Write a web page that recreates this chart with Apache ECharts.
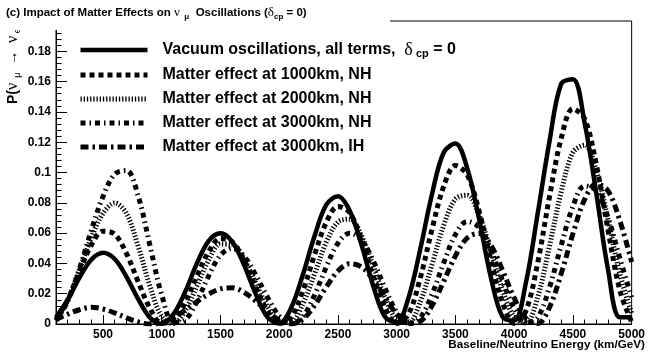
<!DOCTYPE html>
<html>
<head>
<meta charset="utf-8">
<script src="https://cdn.jsdelivr.net/npm/echarts@6/dist/echarts.min.js"></script>
<style>
html, body { margin: 0; padding: 0; background: #fff; }
#chart { width: 648px; height: 352px; }
</style>
</head>
<body>
<div id="chart"></div>
<script>
// Baseline / neutrino energy sample points (km/GeV)
const lOverE = [
  100, 200, 300, 400, 500, 600, 700, 800, 900, 1000,
  1100, 1200, 1300, 1400, 1500, 1600, 1700, 1800, 1900, 2000,
  2100, 2200, 2300, 2400, 2500, 2600, 2700, 2800, 2900, 3000,
  3100, 3200, 3300, 3400, 3500, 3600, 3700, 3800, 3900, 4000,
  4100, 4200, 4300, 4400, 4500, 4600, 4700, 4800, 4900, 5000
];

// P(nu_mu -> nu_e), vacuum, all terms, delta_cp = 0
const vacuum = [
  0.0044, 0.0160, 0.0306, 0.0424, 0.0470, 0.0429, 0.0311, 0.0164, 0.0042, 0.0001,
  0.0065, 0.0213, 0.0401, 0.0549, 0.0599, 0.0543, 0.0391, 0.0199, 0.0045, 0.0003,
  0.0104, 0.0322, 0.0579, 0.0786, 0.0843, 0.0748, 0.0524, 0.0252, 0.0048, 0.0009,
  0.0172, 0.0492, 0.0855, 0.1132, 0.1191, 0.1029, 0.0698, 0.0314, 0.0048, 0.0023,
  0.0273, 0.0728, 0.1203, 0.1585, 0.1615, 0.1326, 0.0857, 0.0354, 0.0044, 0.0044
];

// Matter effect, 1000 km, normal hierarchy
const matter1000NH = [
  0.0029, 0.0159, 0.0346, 0.0520, 0.0613, 0.0593, 0.0465, 0.0278, 0.0104, 0.0007,
  0.0024, 0.0143, 0.0316, 0.0478, 0.0565, 0.0542, 0.0420, 0.0244, 0.0085, 0.0004,
  0.0043, 0.0215, 0.0454, 0.0669, 0.0776, 0.0734, 0.0560, 0.0319, 0.0106, 0.0003,
  0.0065, 0.0301, 0.0623, 0.0908, 0.1046, 0.0985, 0.0749, 0.0427, 0.0142, 0.0004,
  0.0087, 0.0403, 0.0837, 0.1224, 0.1421, 0.1354, 0.1049, 0.0615, 0.0221, 0.0012
];

// Matter effect, 2000 km, normal hierarchy
const matter2000NH = [
  0.0028, 0.0159, 0.0358, 0.0568, 0.0730, 0.0799, 0.0729, 0.0512, 0.0249, 0.0050,
  0.0004, 0.0089, 0.0252, 0.0422, 0.0528, 0.0525, 0.0427, 0.0270, 0.0114, 0.0015,
  0.0013, 0.0130, 0.0328, 0.0539, 0.0672, 0.0692, 0.0582, 0.0383, 0.0175, 0.0029,
  0.0010, 0.0145, 0.0390, 0.0651, 0.0824, 0.0850, 0.0720, 0.0483, 0.0228, 0.0045,
  0.0007, 0.0177, 0.0512, 0.0871, 0.1132, 0.1180, 0.1011, 0.0687, 0.0330, 0.0070
];

// Matter effect, 3000 km, normal hierarchy
const matter3000NH = [
  0.0022, 0.0151, 0.0366, 0.0616, 0.0842, 0.0989, 0.1013, 0.0843, 0.0518, 0.0192,
  0.0011, 0.0028, 0.0150, 0.0318, 0.0454, 0.0500, 0.0448, 0.0324, 0.0176, 0.0053,
  0.0002, 0.0047, 0.0190, 0.0375, 0.0533, 0.0599, 0.0555, 0.0417, 0.0236, 0.0078,
  0.0002, 0.0041, 0.0195, 0.0403, 0.0591, 0.0677, 0.0639, 0.0491, 0.0288, 0.0103,
  0.0006, 0.0043, 0.0240, 0.0518, 0.0776, 0.0912, 0.0879, 0.0700, 0.0432, 0.0176
];

// Matter effect, 3000 km, inverted hierarchy
const matter3000IH = [
  0.0030, 0.0065, 0.0094, 0.0110, 0.0099, 0.0073, 0.0041, 0.0013, 0.0000, 0.0009,
  0.0041, 0.0092, 0.0148, 0.0198, 0.0232, 0.0239, 0.0210, 0.0151, 0.0082, 0.0025,
  0.0000, 0.0030, 0.0122, 0.0243, 0.0350, 0.0398, 0.0377, 0.0293, 0.0176, 0.0066,
  0.0006, 0.0018, 0.0120, 0.0282, 0.0450, 0.0568, 0.0598, 0.0521, 0.0356, 0.0172,
  0.0037, 0.0003, 0.0109, 0.0331, 0.0595, 0.0823, 0.0926, 0.0877, 0.0681, 0.0409
];

const seriesNames = [
  'Vacuum oscillations, all terms, δcp = 0',
  'Matter effect at 1000km, NH',
  'Matter effect at 2000km, NH',
  'Matter effect at 3000km, NH',
  'Matter effect at 3000km, IH'
];

const legendRich = [
  '{b|Vacuum oscillations, all terms,  }{g|δ}{s| cp}{b| = 0}',
  '{b|Matter effect at 1000km, NH}',
  '{b|Matter effect at 2000km, NH}',
  '{b|Matter effect at 3000km, NH}',
  '{b|Matter effect at 3000km, IH}'
];

const titleText = '{b|(c) Impact of Matter Effects on }{g|ν}{s|  μ}{b|  Oscillations (}{g|δ}{s|cp}{b| = 0)}';
const yTitleText = '{b|P(}{g|ν}{s|  μ}{b|  →  }{g|ν}{s| e}{b|)}';
const xTitleText = 'Baseline/Neutrino Energy (km/GeV)';

const SANS = '"Liberation Sans", Arial, sans-serif';
const SERIF = '"Liberation Serif", "Times New Roman", serif';

const lineStyles = [
  { width: 4.5, type: 'solid' },
  { width: 5, type: [5, 4] },
  { width: 5, type: [1.3, 1.9] },
  { width: 5, type: [5, 4, 1.5, 4] },
  { width: 5, type: [8, 4, 2.5, 4] }
];

const dataSets = [vacuum, matter1000NH, matter2000NH, matter3000NH, matter3000IH];

const chart = echarts.init(document.getElementById('chart'), null, { renderer: 'canvas' });

const series = dataSets.map((arr, k) => ({
  name: seriesNames[k],
  type: 'line',
  smooth: 0.35,
  symbol: 'none',
  clip: true,
  lineStyle: Object.assign({ color: '#000', cap: 'butt', join: 'round' }, lineStyles[k]),
  itemStyle: { color: '#000' },
  data: lOverE.map((x, i) => [x, arr[i]]),
  z: 3
}));

chart.setOption({
  animation: false,
  backgroundColor: '#fff',
  grid: {
    left: 56, right: 6, top: 21, bottom: 28,
    show: true, borderColor: '#000', borderWidth: 1, backgroundColor: 'transparent'
  },
  xAxis: {
    type: 'value',
    min: 100,
    max: 5000,
    splitNumber: 10,
    axisLine: { lineStyle: { color: '#000', width: 1 } },
    axisTick: { inside: true, length: 9, lineStyle: { color: '#000', width: 1 } },
    minorTick: { show: true, splitNumber: 5, length: 4.5, lineStyle: { color: '#000', width: 1 } },
    axisLabel: {
      showMinLabel: false,
      margin: 5,
      color: '#000',
      fontFamily: SANS,
      fontWeight: 'bold',
      fontSize: 12,
      formatter: v => String(v)
    },
    splitLine: { show: false }
  },
  yAxis: {
    type: 'value',
    min: 0,
    max: 0.2,
    interval: 0.02,
    axisLine: { lineStyle: { color: '#000', width: 1 } },
    axisTick: { inside: true, length: 11, lineStyle: { color: '#000', width: 1 } },
    minorTick: { show: true, splitNumber: 5, length: 5.5, lineStyle: { color: '#000', width: 1 } },
    axisLabel: {
      margin: 5,
      color: '#000',
      fontFamily: SANS,
      fontWeight: 'bold',
      fontSize: 12
    },
    splitLine: { show: false }
  },
  legend: {
    orient: 'vertical',
    left: 78,
    top: 41,
    padding: 0,
    itemWidth: 67,
    itemHeight: 14,
    itemGap: 8,
    selectedMode: false,
    data: seriesNames,
    itemStyle: { opacity: 0 },
    lineStyle: { width: 'inherit' },
    formatter: name => legendRich[seriesNames.indexOf(name)],
    textStyle: {
      padding: [0, 0, 0, 10],
      rich: {
        b: { fontFamily: SANS, fontWeight: 'bold', fontSize: 16, color: '#000', lineHeight: 18 },
        g: { fontFamily: SERIF, fontSize: 18, color: '#000', lineHeight: 18 },
        s: { fontFamily: SANS, fontWeight: 'bold', fontSize: 11, color: '#000', lineHeight: 10, verticalAlign: 'bottom' }
      }
    }
  },
  graphic: [
    {
      type: 'text',
      x: 13,
      y: 104,
      rotation: Math.PI / 2,
      z: 10,
      style: {
        text: yTitleText,
        align: 'left',
        verticalAlign: 'middle',
        rich: {
          b: { fontFamily: SANS, fontWeight: 'bold', fontSize: 14, fill: '#000', lineHeight: 18 },
          g: { fontFamily: SERIF, fontSize: 16, fill: '#000', lineHeight: 18 },
          s: { fontFamily: SANS, fontSize: 9, fill: '#000', lineHeight: 9, verticalAlign: 'bottom' }
        }
      }
    },
    {
      type: 'rect',
      z: 20,
      shape: { x: 0, y: 0, width: 390, height: 30 },
      style: { fill: '#fff', stroke: null }
    },
    {
      type: 'text',
      x: 6,
      y: 13,
      z: 21,
      style: {
        text: titleText,
        align: 'left',
        verticalAlign: 'middle',
        rich: {
          b: { fontFamily: SANS, fontWeight: 'bold', fontSize: 11.5, fill: '#000', lineHeight: 16 },
          g: { fontFamily: SERIF, fontSize: 13, fill: '#000', lineHeight: 16 },
          s: { fontFamily: SANS, fontWeight: 'bold', fontSize: 8, fill: '#000', lineHeight: 8, verticalAlign: 'bottom' }
        }
      }
    },
    {
      type: 'text',
      right: 3,
      bottom: 1,
      z: 21,
      style: {
        text: xTitleText,
        fontFamily: SANS,
        fontWeight: 'bold',
        fontSize: 11.7,
        fill: '#000'
      }
    }
  ],
  series: series
});
</script>
</body>
</html>
